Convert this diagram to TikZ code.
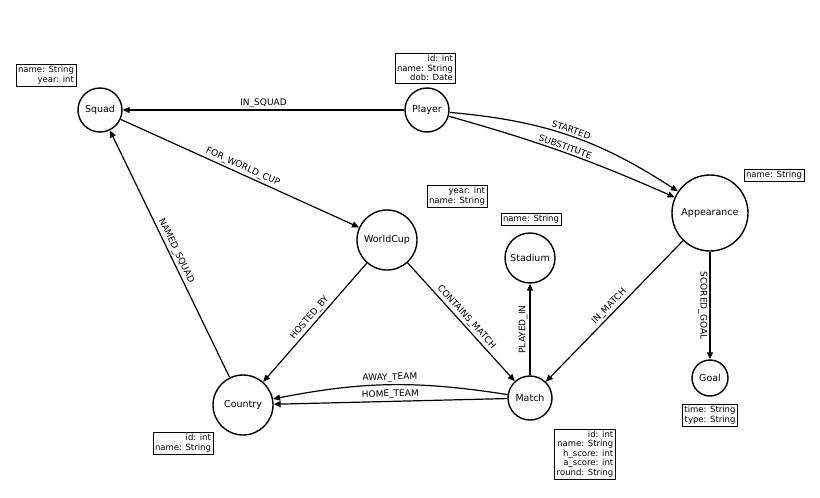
\documentclass[tikz,border=0pt]{standalone}
\usepackage{fontspec}
\setmainfont{DejaVu Sans}
\usetikzlibrary{arrows.meta}
\begin{document}
\begin{tikzpicture}[x=1pt,y=-1pt,
  ent/.style={circle,draw,line width=1.4pt,fill=white,inner sep=0pt,font=\fontsize{9.5}{11}\selectfont},
  prop/.style={draw,line width=0.5pt,fill=white,inner sep=2pt,align=right,font=\fontsize{8.5}{9.5}\selectfont},
  rel/.style={-{Triangle[length=7pt,width=6pt]},line width=1.2pt},
  lab/.style={font=\fontsize{9}{10}\selectfont,sloped,above,inner sep=2pt}]
\useasboundingbox[fill=white] (0,0) rectangle (820,498);
\node[ent,minimum size=44pt] (squad) at (100,110) {Squad};
\node[ent,minimum size=44pt] (player) at (427,110) {Player};
\node[ent,minimum size=76pt] (app) at (710,213) {Appearance};
\node[ent,minimum size=60pt] (wc) at (387,240) {WorldCup};
\node[ent,minimum size=50pt] (stadium) at (530,258) {Stadium};
\node[ent,minimum size=36pt] (goal) at (710,378) {Goal};
\node[ent,minimum size=44pt] (match) at (530,398) {Match};
\node[ent,minimum size=60pt] (country) at (243,405) {Country};

\node[prop] (psquad) at (46,75) {name: String\\year: int};
\node[prop] (pplayer) at (425,68) {id: int\\name: String\\dob: Date};
\node[prop] (papp) at (774,175) {name: String};
\node[prop] (pwc) at (457,196) {year: int\\name: String};
\node[prop] (pstadium) at (531,219) {name: String};
\node[prop] (pgoal) at (710,415) {time: String\\type: String};
\node[prop] (pmatch) at (585,454) {id: int\\name: String\\h\_score: int\\a\_score: int\\round: String};
\node[prop] (pcountry) at (183,443) {id: int\\name: String};

\draw[rel] (player) -- node[lab]{IN\_SQUAD} (squad);
\draw[rel] (player) to[bend left=14] node[lab]{STARTED} (app);
\draw[rel] (player) to[bend left=4] node[lab]{SUBSTITUTE} (app);
\draw[rel] (squad) -- node[lab]{FOR\_WORLD\_CUP} (wc);
\draw[rel] (country) -- node[lab]{NAMED\_SQUAD} (squad);
\draw[rel] (wc) -- node[lab]{HOSTED\_BY} (country);
\draw[rel] (wc) -- node[lab]{CONTAINS\_MATCH} (match);
\draw[rel] (match) -- node[lab]{PLAYED\_IN} (stadium);
\draw[rel] (app) -- node[lab]{IN\_MATCH} (match);
\draw[rel] (app) -- node[lab,below]{SCORED\_GOAL} (goal);
\draw[rel] (match) to[bend right=10] node[lab,above]{AWAY\_TEAM} (country);
\draw[rel] (match) to[bend left=0] node[lab,above]{HOME\_TEAM} (country);
\end{tikzpicture}
\end{document}
